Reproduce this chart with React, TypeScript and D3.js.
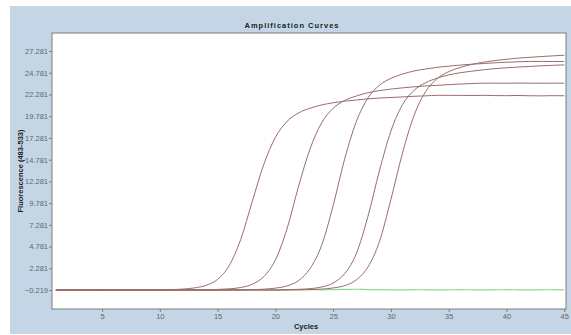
import React, { useRef, useEffect } from "react";
import * as d3 from "d3";

// cycle numbers 1..45
const cycles = d3.range(1, 46);

// fluorescence readings per cycle (483-533)
const sampleA = [
  -0.21, -0.23, -0.22, -0.2, -0.22, -0.21, -0.23, -0.22, -0.21, -0.2,
  -0.16, -0.11, 0.03, 0.32, 1.01, 2.58, 5.6, 9.97, 14.25, 17.34,
  19.16, 20.15, 20.7, 21.07, 21.33, 21.51, 21.64, 21.77, 21.87, 21.93,
  22.0, 22.07, 22.12, 22.18, 22.18, 22.17, 22.16, 22.18, 22.15, 22.14,
  22.16, 22.13, 22.12, 22.14, 22.13,
];
const sampleB = [
  -0.22, -0.21, -0.2, -0.22, -0.23, -0.21, -0.22, -0.2, -0.21, -0.22,
  -0.21, -0.22, -0.21, -0.2, -0.15, -0.08, 0.07, 0.45, 1.33, 3.23,
  6.8, 11.68, 16.01, 19.01, 20.69, 21.59, 22.1, 22.47, 22.72, 22.9,
  23.04, 23.16, 23.26, 23.33, 23.41, 23.48, 23.53, 23.58, 23.58, 23.57,
  23.59, 23.58, 23.57, 23.58, 23.58,
];
const sampleC = [
  -0.2, -0.22, -0.21, -0.23, -0.22, -0.2, -0.21, -0.22, -0.23, -0.21,
  -0.2, -0.22, -0.21, -0.22, -0.21, -0.2, -0.2, -0.18, -0.12, 0.0,
  0.25, 0.86, 2.25, 4.91, 9.51, 14.88, 19.14, 21.86, 23.33, 24.13,
  24.62, 24.98, 25.21, 25.4, 25.54, 25.66, 25.76, 25.84, 25.92, 25.99,
  26.04, 26.08, 26.08, 26.07, 26.08,
];
const sampleD = [
  -0.23, -0.21, -0.22, -0.2, -0.21, -0.22, -0.21, -0.23, -0.2, -0.22,
  -0.21, -0.2, -0.22, -0.21, -0.23, -0.22, -0.21, -0.2, -0.22, -0.21,
  -0.19, -0.14, -0.06, 0.13, 0.58, 1.67, 3.95, 8.2, 13.48, 18.07,
  21.1, 22.75, 23.63, 24.15, 24.53, 24.78, 24.96, 25.12, 25.25, 25.35,
  25.43, 25.5, 25.58, 25.63, 25.68,
];
const sampleE = [
  -0.22, -0.2, -0.21, -0.22, -0.23, -0.21, -0.2, -0.22, -0.21, -0.22,
  -0.2, -0.21, -0.23, -0.22, -0.21, -0.2, -0.22, -0.21, -0.2, -0.22,
  -0.21, -0.2, -0.17, -0.11, 0.02, 0.29, 0.95, 2.41, 5.34, 10.21,
  15.53, 19.86, 22.6, 24.09, 24.9, 25.39, 25.74, 25.99, 26.18, 26.33,
  26.46, 26.55, 26.64, 26.72, 26.79,
];
// negative control, stays flat
const negative = [
  -0.2, -0.21, -0.19, -0.2, -0.18, -0.19, -0.2, -0.21, -0.19, -0.18,
  -0.2, -0.19, -0.18, -0.2, -0.21, -0.19, -0.18, -0.17, -0.19, -0.2,
  -0.18, -0.16, -0.18, -0.19, -0.17, -0.15, -0.13, -0.16, -0.18, -0.19,
  -0.2, -0.18, -0.19, -0.2, -0.19, -0.18, -0.19, -0.2, -0.19, -0.18,
  -0.19, -0.2, -0.19, -0.18, -0.19,
];

const positives = [sampleA, sampleB, sampleC, sampleD, sampleE];

const xTicks = [5, 10, 15, 20, 25, 30, 35, 40, 45];
const yTicks = d3.range(0, 12).map((k) => -0.219 + 2.5 * k);

const W = 571;
const H = 335;
const FONT = "'Liberation Sans', Arial, sans-serif";

const App = () => {
  const svgRef = useRef<SVGSVGElement>(null);

  useEffect(() => {
    const svg = d3.select(svgRef.current);
    svg.selectAll("*").remove();

    const plot = { left: 52, top: 33, right: 566, bottom: 309 };

    // panel background
    svg.append("rect").attr("width", W).attr("height", H).attr("fill", "#ffffff");
    svg
      .append("rect")
      .attr("x", 10)
      .attr("y", 6)
      .attr("width", W - 10)
      .attr("height", H - 7)
      .attr("fill", "#c4d5e6");

    svg
      .append("rect")
      .attr("x", plot.left)
      .attr("y", plot.top)
      .attr("width", plot.right - plot.left)
      .attr("height", plot.bottom - plot.top)
      .attr("fill", "#ffffff");

    const x = d3.scaleLinear().domain([0.67, 45.15]).range([plot.left, plot.right]);
    const y = d3.scaleLinear().domain([-2.4, 29.35]).range([plot.bottom, plot.top]);

    const line = d3
      .line<number>()
      .x((_, i) => x(cycles[i]))
      .y((d) => y(d))
      .curve(d3.curveMonotoneX);

    const g = svg.append("g");

    g.append("path")
      .datum(negative)
      .attr("fill", "none")
      .attr("stroke", "#8edc8e")
      .attr("stroke-width", 1.2)
      .attr("d", line);

    g.selectAll(".curve")
      .data(positives)
      .join("path")
      .attr("class", "curve")
      .attr("fill", "none")
      .attr("stroke", "#9a6c6c")
      .attr("stroke-width", 1)
      .attr("d", line);

    // frame
    svg
      .append("rect")
      .attr("x", plot.left)
      .attr("y", plot.top)
      .attr("width", plot.right - plot.left)
      .attr("height", plot.bottom - plot.top)
      .attr("fill", "none")
      .attr("stroke", "#7c7c7c");

    // y axis
    const yAxis = svg
      .append("g")
      .attr("transform", `translate(${plot.left},0)`)
      .call(
        d3
          .axisLeft(y)
          .tickValues(yTicks)
          .tickSize(3)
          .tickPadding(1)
          .tickFormat((d) => d3.format(".3f")(d as number))
      );
    yAxis.select(".domain").remove();
    yAxis.selectAll("line").attr("stroke", "#7c7c7c");
    yAxis
      .selectAll("text")
      .attr("fill", "#666666")
      .style("font-family", FONT)
      .style("font-size", "7.5px");

    // x axis
    const xAxis = svg
      .append("g")
      .attr("transform", `translate(0,${plot.bottom})`)
      .call(d3.axisBottom(x).tickValues(xTicks).tickSize(3).tickPadding(2));
    xAxis.select(".domain").remove();
    xAxis.selectAll("line").attr("stroke", "#7c7c7c");
    xAxis
      .selectAll("text")
      .attr("fill", "#666666")
      .style("font-family", FONT)
      .style("font-size", "7.5px");

    // titles
    svg
      .append("text")
      .attr("x", 292)
      .attr("y", 28)
      .attr("text-anchor", "middle")
      .style("font-family", FONT)
      .style("font-size", "7.5px")
      .style("font-weight", "bold")
      .style("letter-spacing", "1px")
      .attr("fill", "#202020")
      .text("Amplification Curves");

    svg
      .append("text")
      .attr("x", 306)
      .attr("y", 329)
      .attr("text-anchor", "middle")
      .style("font-family", FONT)
      .style("font-size", "7.5px")
      .style("font-weight", "bold")
      .attr("fill", "#202020")
      .text("Cycles");

    svg
      .append("text")
      .attr("transform", `translate(23,${(plot.top + plot.bottom) / 2}) rotate(-90)`)
      .attr("text-anchor", "middle")
      .style("font-family", FONT)
      .style("font-size", "7.5px")
      .style("font-weight", "bold")
      .attr("fill", "#202020")
      .text("Fluorescence (483-533)");
  }, []);

  return (
    <svg
      ref={svgRef}
      width={W}
      height={H}
      style={{ position: "absolute", left: 0, top: 0, display: "block" }}
    />
  );
};

export default App;
